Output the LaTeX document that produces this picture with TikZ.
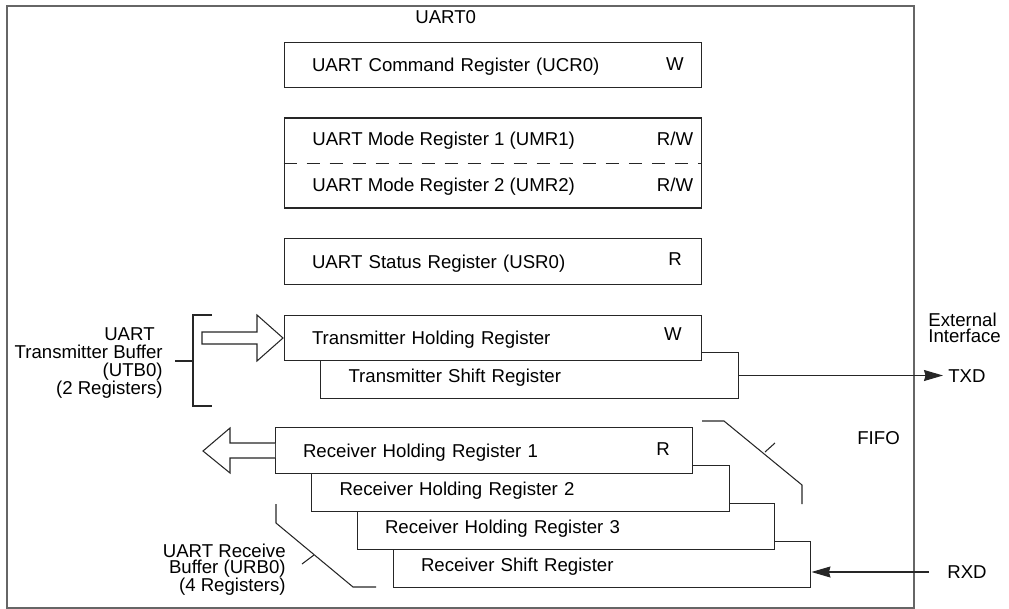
\documentclass[tikz,border=0pt]{standalone}
\usepackage{fontspec}
\setmainfont{Liberation Sans}
\usetikzlibrary{arrows.meta}

\tikzset{
  frame/.style={draw=black!60, line width=0.6pt},
  reg/.style={draw=black!85, fill=white, line width=0.6pt,
    minimum width=8.36cm, minimum height=0.91cm,
    text width=7.24cm, inner xsep=0.56cm, inner ysep=0pt, align=left,
    text height=7.6pt, text depth=0pt},
  lbl/.style={anchor=west, inner sep=0pt, text height=7.6pt, text depth=0pt},
  acc/.style={inner sep=0pt, text height=7.6pt, text depth=0pt},
  hollow/.style={draw=black!85, fill=white, line width=0.6pt},
  brace/.style={draw=black!85, line width=0.6pt},
  sig/.style={draw=black!85, line width=0.6pt,
    -{Stealth[length=0.38cm, width=0.22cm, inset=0.03cm]}}
}

\begin{document}
\begin{tikzpicture}[x=0.02cm, y=-0.02cm, font=\fontsize{10.6}{12.7}\selectfont]
  \useasboundingbox (0,0) rectangle (1009,609);

  % UART0 frame
  \draw[frame] (7,6) rectangle (914,608);
  \node[lbl] (uart) at (415,17) {UART0};

  % Command, mode and status registers
  \node[reg] (ucr) at (493,65) {UART Command Register (UCR0)};
  \node[acc] (ucrw) at (675,64) {W};

  \node[reg, minimum height=1.8cm] (umr) at (493,163) {};
  \draw[brace, line width=0.5pt, dash pattern=on 7.4pt off 5.7pt] (umr.west) -- (umr.east);
  \node[lbl] (umra) at (312,139) {UART Mode Register 1 (UMR1)};
  \node[lbl] (umrb) at (312,185) {UART Mode Register 2 (UMR2)};
  \node[acc] (umraw) at (675,139) {R/W};
  \node[acc] (umrbw) at (675,185) {R/W};

  \node[reg] (usr) at (493,261.5) {UART Status Register (USR0)};
  \node[acc] (usrr) at (675,259) {R};

  % Transmitter buffer
  \node[reg] (tsr) at (529.5,375.5) {Transmitter Shift Register};
  \node[reg] (thr) at (493,338) {Transmitter Holding Register};
  \node[acc] (thrw) at (673,334) {W};

  \draw[hollow] (202,332) -- (257,332) -- (257,315) -- (283,338)
    -- (257,361) -- (257,344) -- (202,344) -- cycle;
  \draw[brace] (212,315) -- (193,315) -- (193,406) -- (212,406);
  \draw[brace] (175,361) -- (193,361);
  \node[anchor=east, align=right, inner sep=0pt,
    font={\fontsize{10.6}{10.2}\selectfont}] (utb) at (163,363)
    {UART\hspace*{0.16cm}\\Transmitter Buffer\\(UTB0)\hspace*{0.12cm}\\(2 Registers)};

  % Receiver buffer
  \node[reg] (rsr) at (602,564.5) {Receiver Shift Register};
  \node[reg] (rhrc) at (566,526.5) {Receiver Holding Register 3};
  \node[reg] (rhrb) at (520.5,488.5) {Receiver Holding Register 2};
  \node[reg] (rhra) at (484,450.5) {Receiver Holding Register 1};
  \node[acc] (rhrar) at (663,449) {R};

  \draw[hollow] (275,443) -- (230,443) -- (230,428) -- (203,451)
    -- (230,473) -- (230,458) -- (275,458);
  \draw[brace] (276,504) -- (276,523) -- (353,587) -- (376,587);
  \draw[brace] (302,564) -- (314,555);
  \node[anchor=east, align=right, inner sep=0pt,
    font={\fontsize{10.6}{9.2}\selectfont\lineskiplimit=-20pt}] (urb) at (286,569.5)
    {UART Receive\\Buffer (URB0)\\[0.9pt](4 Registers)};

  \draw[brace] (702,421) -- (724,421) -- (802,485) -- (802,504);
  \draw[brace] (765,452) -- (775,443);
  \node[lbl] (fifo) at (857,438) {FIFO};

  % External interface
  \node[anchor=west, align=left, inner sep=0pt,
    font={\fontsize{10.6}{9.4}\selectfont}] (ext) at (928,328) {External\\Interface};
  \node[lbl, inner xsep=0.1cm] (txd) at (943,375.5) {TXD};
  \node[lbl, inner xsep=0.36cm] (rxd) at (929,572) {RXD};
  \draw[sig] (tsr.east) -- (txd.west);
  \draw[sig] (rxd.west) -- (rxd.west -| rsr.east);
\end{tikzpicture}
\end{document}
